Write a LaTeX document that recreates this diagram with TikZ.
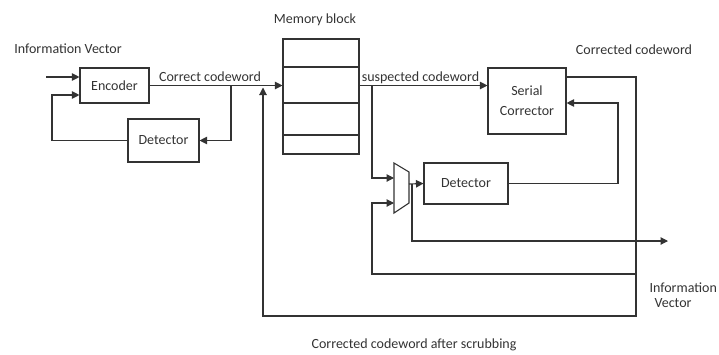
\documentclass[tikz,border=0pt]{standalone}
\usepackage{fontspec}
\setmainfont{Carlito}
\usetikzlibrary{arrows.meta}
\begin{document}
\begin{tikzpicture}[x=1pt,y=-1pt,
  line width=1.1pt,
  every node/.style={text=black!80, font=\fontsize{14}{17}\selectfont},
  blk/.style={draw=black!80, rectangle, inner sep=0pt},
  lbl/.style={inner sep=0pt},
  wire/.style={draw=black!80},
  arr/.style={draw=black!80, -{Triangle[length=7.5pt,width=7.5pt]}}]
\useasboundingbox (0,0) rectangle (719,354);
% blocks
\node[blk, minimum width=69pt, minimum height=35pt] (enc) at (114.5,85.5) {Encoder};
\node[blk, minimum width=71pt, minimum height=43pt] (det1) at (163.5,140.5) {Detector};
\node[blk, minimum width=76pt, minimum height=115pt] (mem) at (321,96.5) {};
\draw[wire] (283,67) -- (359,67) (283,103) -- (359,103) (283,135) -- (359,135);
\node[blk, minimum width=78pt, minimum height=66pt, align=center] (sc) at (527,101) {Serial\\[3pt]Corrector};
\node[blk, minimum width=84pt, minimum height=41pt] (det2) at (466,183.5) {Detector};
% multiplexer
\draw[wire] (394,163) -- (409,172) -- (409,203) -- (394,213) -- cycle;
\coordinate (muxin1) at (394,178);
\coordinate (muxin2) at (394,203);
\coordinate (muxout) at (409,184);
% labels
\node[lbl] (iv) at (68,49) {Information Vector};
\node[lbl] (mb) at (315,20) {Memory block};
\node[lbl] (cc) at (210,77) {Correct codeword};
\node[lbl, anchor=base] (sus) at (420.5,81) {suspected codeword};
\node[lbl] (ccd) at (634,50) {Corrected codeword};
\node[lbl, anchor=west] (iv2a) at (649,288) {Information};
\node[lbl, anchor=west] (iv2b) at (654,303) {Vector};
\node[lbl] (scr) at (414,345) {Corrected codeword after scrubbing};
% coordinates
\coordinate (in1) at (46,77);
\coordinate (lp) at (52,95);
\coordinate (br1) at (231,85.5);
\coordinate (br2) at (372,85.5);
\coordinate (rvt) at (636,77);
\coordinate (rvb) at (636,316);
\coordinate (rvm) at (636,274);
\coordinate (up) at (263,87.5);
\coordinate (fbt) at (618,103);
\coordinate (ob) at (412,184);
\coordinate (oe) at (668,241);
% connectors
\draw[arr] (in1) -- (enc.west|-in1);
\draw[arr] (det1.west) -| (lp) -- (enc.west|-lp);
\draw[arr] (enc.east) -- (mem.west|-enc.east);
\draw[arr] (br1) |- (det1.east);
\draw[arr] (mem.east|-enc.east) -- (sc.west|-enc.east);
\draw[arr] (br2) |- (muxin1);
\draw[arr] (rvm) -| (372,203) -- (muxin2);
\draw[arr] (muxout) -- (det2.west);
\draw[arr] (ob) |- (oe);
\draw[arr] (det2.east) -| (fbt) -- (sc.east|-fbt);
\draw[arr] (sc.east|-rvt) -- (rvt) -- (rvb) -| (up);
\end{tikzpicture}
\end{document}
